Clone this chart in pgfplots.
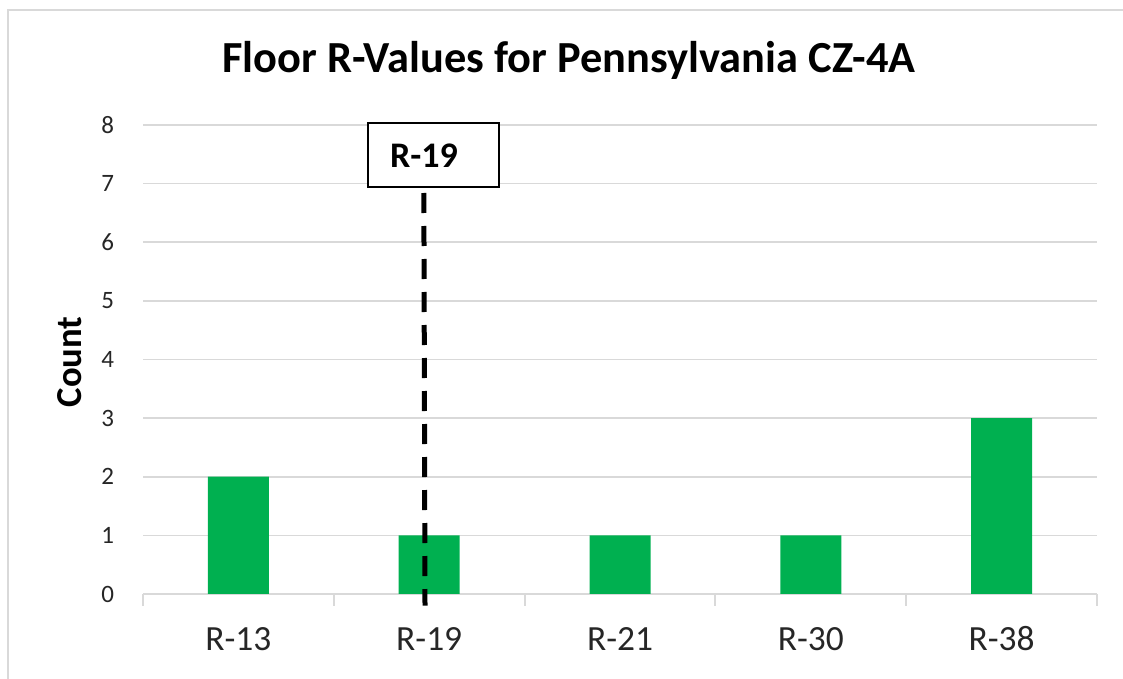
\documentclass[border=0pt]{standalone}
\usepackage{fontspec}
\setmainfont{Carlito}
\usepackage{pgfplots}
\pgfplotsset{compat=1.18}
\definecolor{bargreen}{HTML}{00B050}
\definecolor{gridgray}{HTML}{D9D9D9}
\definecolor{txt}{HTML}{262626}
\begin{document}
\begin{tikzpicture}
\path[use as bounding box] (0,0) rectangle (561.5pt,339.5pt);
\draw[gridgray, line width=1.2pt] (4pt,0) -- (4pt,334.5pt) -- (561.5pt,334.5pt);
\begin{axis}[
  at={(71.5pt,42.5pt)}, anchor=south west,
  scale only axis, width=477pt, height=234.5pt,
  xmin=-0.5, xmax=4.5, ymin=0, ymax=8,
  xtick={0,1,2,3,4}, xticklabels={R-13,R-19,R-21,R-30,R-38},
  minor xtick={-0.5,0.5,1.5,2.5,3.5,4.5},
  major x tick style={draw=none},
  minor x tick style={gridgray, line width=1pt},
  minor tick length=6pt, major tick length=0pt,
  tick align=outside,
  ytick={0,1,2,3,4,5,6,7,8}, y tick style={draw=none},
  ymajorgrids, grid style={gridgray, line width=0.8pt},
  axis x line*=bottom, axis y line*=left,
  y axis line style={draw=none},
  x axis line style={gridgray, line width=1pt},
  xticklabel style={font=\fontsize{17.7}{20}\selectfont, text=txt, yshift=-13pt, text height=11.5pt, text depth=0pt},
  yticklabel style={font=\fontsize{12.5}{14}\selectfont, text=txt, xshift=-11pt},
  /pgf/number format/assume math mode=true,
  clip=false,
]
\addplot[ybar, bar width=30.5pt, fill=bargreen, draw=none] coordinates {(0,2)(1,1)(2,1)(3,1)(4,3)};
\addplot[black, line width=2.5pt, dash pattern=on 10pt off 6.5pt] coordinates {(0.972,6.84)(0.978,-0.2)};
\draw[black, line width=1pt, fill=white] (axis cs:0.679,6.95) rectangle (axis cs:1.366,8.04);
\node[font=\bfseries\fontsize{18}{20}\selectfont] at (axis cs:0.973,7.48) {R-19};
\end{axis}
\node[anchor=base, font=\bfseries\fontsize{22.2}{24}\selectfont] at (284.5pt,303pt) {Floor R-Values for Pennsylvania CZ-4A};
\node[rotate=90, font=\bfseries\fontsize{18.3}{20}\selectfont] at (35pt,158.5pt) {Count};
\end{tikzpicture}
\end{document}
